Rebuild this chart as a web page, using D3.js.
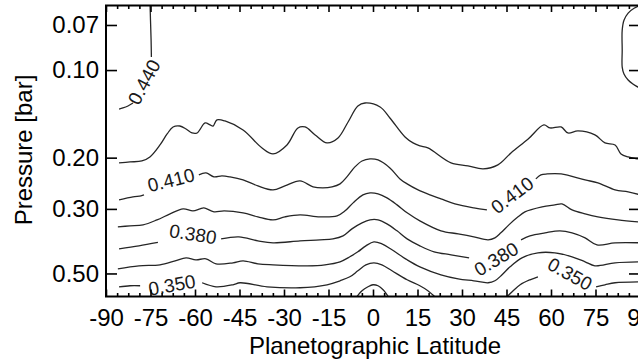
<!DOCTYPE html>
<html><head><meta charset="utf-8">
<script src="https://cdn.jsdelivr.net/npm/d3@7/dist/d3.min.js"></script>
<style>
html,body{margin:0;padding:0;background:#fff;}
svg{display:block;font-family:"Liberation Sans",Arial,Helvetica,sans-serif;}
</style></head><body>
<svg id="chart" width="638" height="359"></svg>
<script>
// Contour lines of the field, one array of [latitude, pressure (bar)] vertices per drawn piece.
// Pieces of the same level are split where a level label sits on the line.
const c440West1 = [[-75.2,0.057],[-75.0,0.0674],[-74.8,0.0789],[-74.7,0.0902]];
const c440West2 = [[-80.9,0.1298],[-82.6,0.1329],[-84.3,0.1350],[-85.6,0.1361]];
const c440East = [[90.5,0.0598],[88.0,0.0613],[86.0,0.0637],[84.6,0.0674],[84.0,0.0729],[84.0,0.0854],[84.0,0.0977],[84.6,0.1032],[86.0,0.1082],[87.6,0.1117],[89.3,0.1144],[90.7,0.1162]];

const c425 = [[-85.6,0.2085],[-81.9,0.2069],[-77.9,0.2053],[-75.2,0.1989],[-71.8,0.1809],[-69.4,0.1658],[-67.4,0.1569],[-65.1,0.1557],[-63.0,0.1594],[-61.0,0.1645],[-59.3,0.1645],[-56.6,0.1520],[-54.9,0.1544],[-53.9,0.1557],[-52.6,0.1484],[-49.9,0.1496],[-43.8,0.1607],[-37.4,0.1852],[-33.7,0.1942],[-29.0,0.1809],[-25.3,0.1581],[-22.9,0.1569],[-19.5,0.1671],[-15.5,0.1780],[-11.8,0.1712],[-8.4,0.1508],[-5.1,0.1329],[-2.7,0.1298],[2.4,0.1340],[5.7,0.1461],[10.8,0.1698],[13.5,0.1780],[15.8,0.1823],[18.5,0.1852],[26.3,0.2085],[32.0,0.2135],[37.1,0.2186],[42.1,0.2118],[46.5,0.1927],[52.3,0.1725],[57.6,0.1544],[59.7,0.1581],[63.4,0.1569],[65.7,0.1645],[69.1,0.1619],[74.8,0.1671],[78.2,0.1780],[81.6,0.1809],[83.6,0.1942],[86.0,0.1989],[89.3,0.2020],[90.5,0.2030]];

const c410West = [[-85.6,0.2793],[-80.9,0.2728],[-78.2,0.2706],[-77.2,0.2685]];
const c410Mid = [[-58.7,0.2293],[-56.3,0.2257],[-53.6,0.2329],[-50.9,0.2311],[-48.2,0.2329],[-43.8,0.2385],[-38.8,0.2501],[-33.7,0.2581],[-29.7,0.2501],[-24.6,0.2404],[-20.2,0.2521],[-16.9,0.2541],[-13.8,0.2521],[-11.1,0.2461],[-8.8,0.2329],[-6.1,0.2152],[-3.7,0.2053],[-1.0,0.2020],[1.7,0.2037],[5.7,0.2169],[9.1,0.2366],[11.5,0.2461],[15.2,0.2581],[19.2,0.2685],[22.9,0.2772],[27.6,0.2883],[34.0,0.2976],[38.4,0.3023]];
const c410East = [[54.9,0.2366],[56.6,0.2293],[58.7,0.2275],[63.4,0.2275],[71.5,0.2385],[75.8,0.2442],[81.6,0.2581],[86.0,0.2622],[90.5,0.2690]];

const c395 = [[-86.0,0.3458],[-81.9,0.3430],[-77.5,0.3404],[-72.8,0.3272],[-68.4,0.3120],[-64.0,0.2999],[-60.7,0.3047],[-58.3,0.2999],[-57.0,0.2976],[-53.6,0.3071],[-50.2,0.3047],[-43.8,0.3095],[-38.8,0.3195],[-33.7,0.3272],[-29.7,0.3195],[-24.6,0.3145],[-17.9,0.3195],[-12.1,0.3170],[-9.4,0.3047],[-6.7,0.2860],[-3.4,0.2685],[-1.0,0.2643],[1.7,0.2663],[4.7,0.2750],[8.1,0.2906],[11.5,0.3095],[15.8,0.3298],[22.9,0.3569],[28.7,0.3655],[34.0,0.3742],[38.8,0.3832],[41.1,0.3773],[43.1,0.3626],[45.8,0.3404],[48.9,0.3195],[51.2,0.3071],[57.0,0.2952],[61.3,0.2906],[63.7,0.2883],[67.1,0.3023],[71.5,0.3120],[75.8,0.3195],[82.6,0.3272],[90.5,0.3330]];

const c380West = [[-85.6,0.4115],[-78.9,0.4018],[-72.5,0.3910]];
const c380Mid = [[-51.2,0.3802],[-45.2,0.3742],[-38.8,0.3863],[-33.7,0.3924],[-24.6,0.3863],[-17.9,0.3832],[-13.5,0.3802],[-10.1,0.3713],[-7.1,0.3513],[-3.7,0.3351],[-1.0,0.3272],[1.7,0.3272],[4.7,0.3377],[8.1,0.3569],[11.5,0.3802],[15.8,0.4018],[20.6,0.4213],[26.3,0.4314],[32.4,0.4418]];
const c380East = [[49.9,0.3832],[52.9,0.3713],[58.0,0.3626],[63.0,0.3569],[67.1,0.3626],[71.5,0.3773],[75.5,0.3986],[81.6,0.3924],[90.5,0.3924]];

const c365 = [[-86.0,0.4819],[-78.9,0.4706],[-71.8,0.4669],[-66.7,0.4524],[-63.0,0.4418],[-59.7,0.4488],[-56.3,0.4453],[-52.9,0.4632],[-47.2,0.4595],[-43.8,0.4524],[-38.8,0.4632],[-33.7,0.4669],[-22.2,0.4706],[-16.2,0.4669],[-11.1,0.4559],[-7.8,0.4382],[-5.1,0.4213],[-2.4,0.4018],[0.3,0.3893],[3.0,0.3955],[6.4,0.4147],[11.5,0.4488],[15.8,0.4744],[22.9,0.5053],[28.7,0.5215],[34.0,0.5298],[38.8,0.5382],[41.1,0.5298],[43.5,0.5053],[46.2,0.4744],[50.2,0.4418],[55.6,0.4246],[61.3,0.4246],[67.1,0.4382],[71.5,0.4559],[74.8,0.4706],[81.6,0.4595],[90.5,0.4559]];

const c350West = [[-85.6,0.5556],[-81.9,0.5511],[-78.5,0.5511]];
const c350Mid = [[-57.6,0.5382],[-52.9,0.5556],[-47.2,0.5468],[-44.8,0.5382],[-35.7,0.5556],[-24.6,0.5599],[-15.5,0.5468],[-11.1,0.5298],[-7.8,0.5134],[-5.1,0.4896],[-2.4,0.4669],[0.3,0.4595],[3.0,0.4669],[6.4,0.4896],[11.5,0.5257],[15.8,0.5511],[18.5,0.5732],[21.2,0.6060]];
const c350East1 = [[44.8,0.6060],[46.9,0.5779],[49.6,0.5468],[52.9,0.5257],[55.6,0.5134]];
const c350East2 = [[75.2,0.5556],[78.2,0.5468],[81.6,0.5382],[90.5,0.5340]];

const c335 = [[-5.7,0.6060],[-3.7,0.5732],[-1.7,0.5556],[0.0,0.5468],[1.7,0.5511],[3.4,0.5689],[5.4,0.6060]];

const levels = [0.440, 0.425, 0.410, 0.395, 0.380, 0.365, 0.350, 0.335];
const contourPieces = [
  [c440West1, c440West2, c440East],
  [c425],
  [c410West, c410Mid, c410East],
  [c395],
  [c380West, c380Mid, c380East],
  [c365],
  [c350West, c350Mid, c350East1, c350East2],
  [c335]
];

// Level labels written on the lines
const labelLevel = [0.440, 0.410, 0.410, 0.380, 0.380, 0.350, 0.350];
const labelLat   = [-77.2, -68.1, 46.9, -60.7, 41.5, -67.8, 66.4];
const labelP     = [0.1099, 0.2385, 0.2685, 0.3655, 0.4453, 0.5468, 0.5013];
const labelAngle = [-62, -14, -37, 9, -31, -10, 29];

// Axes
const latTicks = [-90, -75, -60, -45, -30, -15, 0, 15, 30, 45, 60, 75, 90];
const latMinorStep = 3.75;
const pTicks = [0.07, 0.10, 0.20, 0.30, 0.50];
const latDomain = [-90, 90];
const pDomain = [0.06, 0.6];

const svg = d3.select("#chart");
const W = 638, H = 359;
const plot = {left: 106, right: 640, top: 5.5, bottom: 296.5};

svg.append("rect").attr("width", W).attr("height", H).attr("fill", "#fff");

const x = d3.scaleLinear().domain(latDomain).range([plot.left, plot.right]);
const y = d3.scaleLog().domain(pDomain).range([plot.top, plot.bottom]);

svg.append("clipPath").attr("id", "plotClip")
  .append("rect")
  .attr("x", plot.left).attr("y", plot.top)
  .attr("width", plot.right - plot.left).attr("height", plot.bottom - plot.top);

const line = d3.line()
  .x(d => x(d[0])).y(d => y(d[1]))
  .curve(d3.curveCatmullRom.alpha(0.5));

const gLines = svg.append("g").attr("clip-path", "url(#plotClip)");
contourPieces.forEach((pieces, i) => {
  gLines.selectAll(null)
    .data(pieces)
    .join("path")
    .attr("class", "contour level-" + levels[i])
    .attr("d", line)
    .attr("fill", "none")
    .attr("stroke", "#262626")
    .attr("stroke-width", 1.3)
    .attr("stroke-linejoin", "round");
});

const fmtLevel = d3.format(".3f");
svg.append("g").attr("clip-path", "url(#plotClip)")
  .selectAll("text")
  .data(labelLevel.map((v, i) => ({v, lat: labelLat[i], p: labelP[i], a: labelAngle[i]})))
  .join("text")
  .attr("transform", d => `translate(${x(d.lat)},${y(d.p)}) rotate(${d.a})`)
  .attr("text-anchor", "middle")
  .attr("dy", "0.36em")
  .attr("font-size", 19)
  .attr("fill", "#1a1a1a")
  .text(d => fmtLevel(d.v));

// Minor latitude ticks
const minorLat = d3.range(latDomain[0], latDomain[1] + 0.001, latMinorStep)
  .filter(v => !latTicks.some(t => Math.abs(t - v) < 1e-6));

// latitude labels with a plain hyphen as the sign
const fmtLat = d => String(d);

function styleAxis(g) {
  g.select(".domain").remove();
  g.selectAll(".tick line").attr("stroke", "#000").attr("stroke-width", 1.6);
}

// bottom
svg.append("g").attr("transform", `translate(0,${plot.bottom})`)
  .call(d3.axisBottom(x).tickValues(latTicks).tickSizeInner(-7).tickSizeOuter(0).tickPadding(12).tickFormat(fmtLat))
  .call(styleAxis)
  .call(g => g.selectAll("text").attr("font-size", 24).attr("fill", "#000").attr("font-family", null));
svg.append("g").attr("transform", `translate(0,${plot.bottom})`)
  .call(d3.axisBottom(x).tickValues(minorLat).tickSizeInner(-3.5).tickSizeOuter(0).tickFormat(""))
  .call(styleAxis);
// top
svg.append("g").attr("transform", `translate(0,${plot.top})`)
  .call(d3.axisTop(x).tickValues(latTicks).tickSizeInner(-6.5).tickSizeOuter(0).tickFormat(""))
  .call(styleAxis);
svg.append("g").attr("transform", `translate(0,${plot.top})`)
  .call(d3.axisTop(x).tickValues(minorLat).tickSizeInner(-3.5).tickSizeOuter(0).tickFormat(""))
  .call(styleAxis);
// left
svg.append("g").attr("transform", `translate(${plot.left},0)`)
  .call(d3.axisLeft(y).tickValues(pTicks).tickSizeInner(-11).tickSizeOuter(0).tickPadding(7).tickFormat(d3.format(".2f")))
  .call(styleAxis)
  .call(g => g.selectAll("text").attr("font-size", 24).attr("fill", "#000").attr("font-family", null));
// right
svg.append("g").attr("transform", `translate(${plot.right},0)`)
  .call(d3.axisRight(y).tickValues(pTicks).tickSizeInner(-11).tickSizeOuter(0).tickFormat(""))
  .call(styleAxis);

// frame
svg.append("rect")
  .attr("x", plot.left).attr("y", plot.top)
  .attr("width", plot.right - plot.left).attr("height", plot.bottom - plot.top)
  .attr("fill", "none").attr("stroke", "#000").attr("stroke-width", 2);

// axis titles
svg.append("text")
  .attr("x", (plot.left + plot.right) / 2 + 2).attr("y", 354)
  .attr("text-anchor", "middle").attr("font-size", 24).attr("fill", "#000")
  .text("Planetographic Latitude");
svg.append("text")
  .attr("transform", `translate(32,150) rotate(-90)`)
  .attr("text-anchor", "middle").attr("font-size", 24).attr("fill", "#000")
  .text("Pressure [bar]");
</script>
</body></html>
